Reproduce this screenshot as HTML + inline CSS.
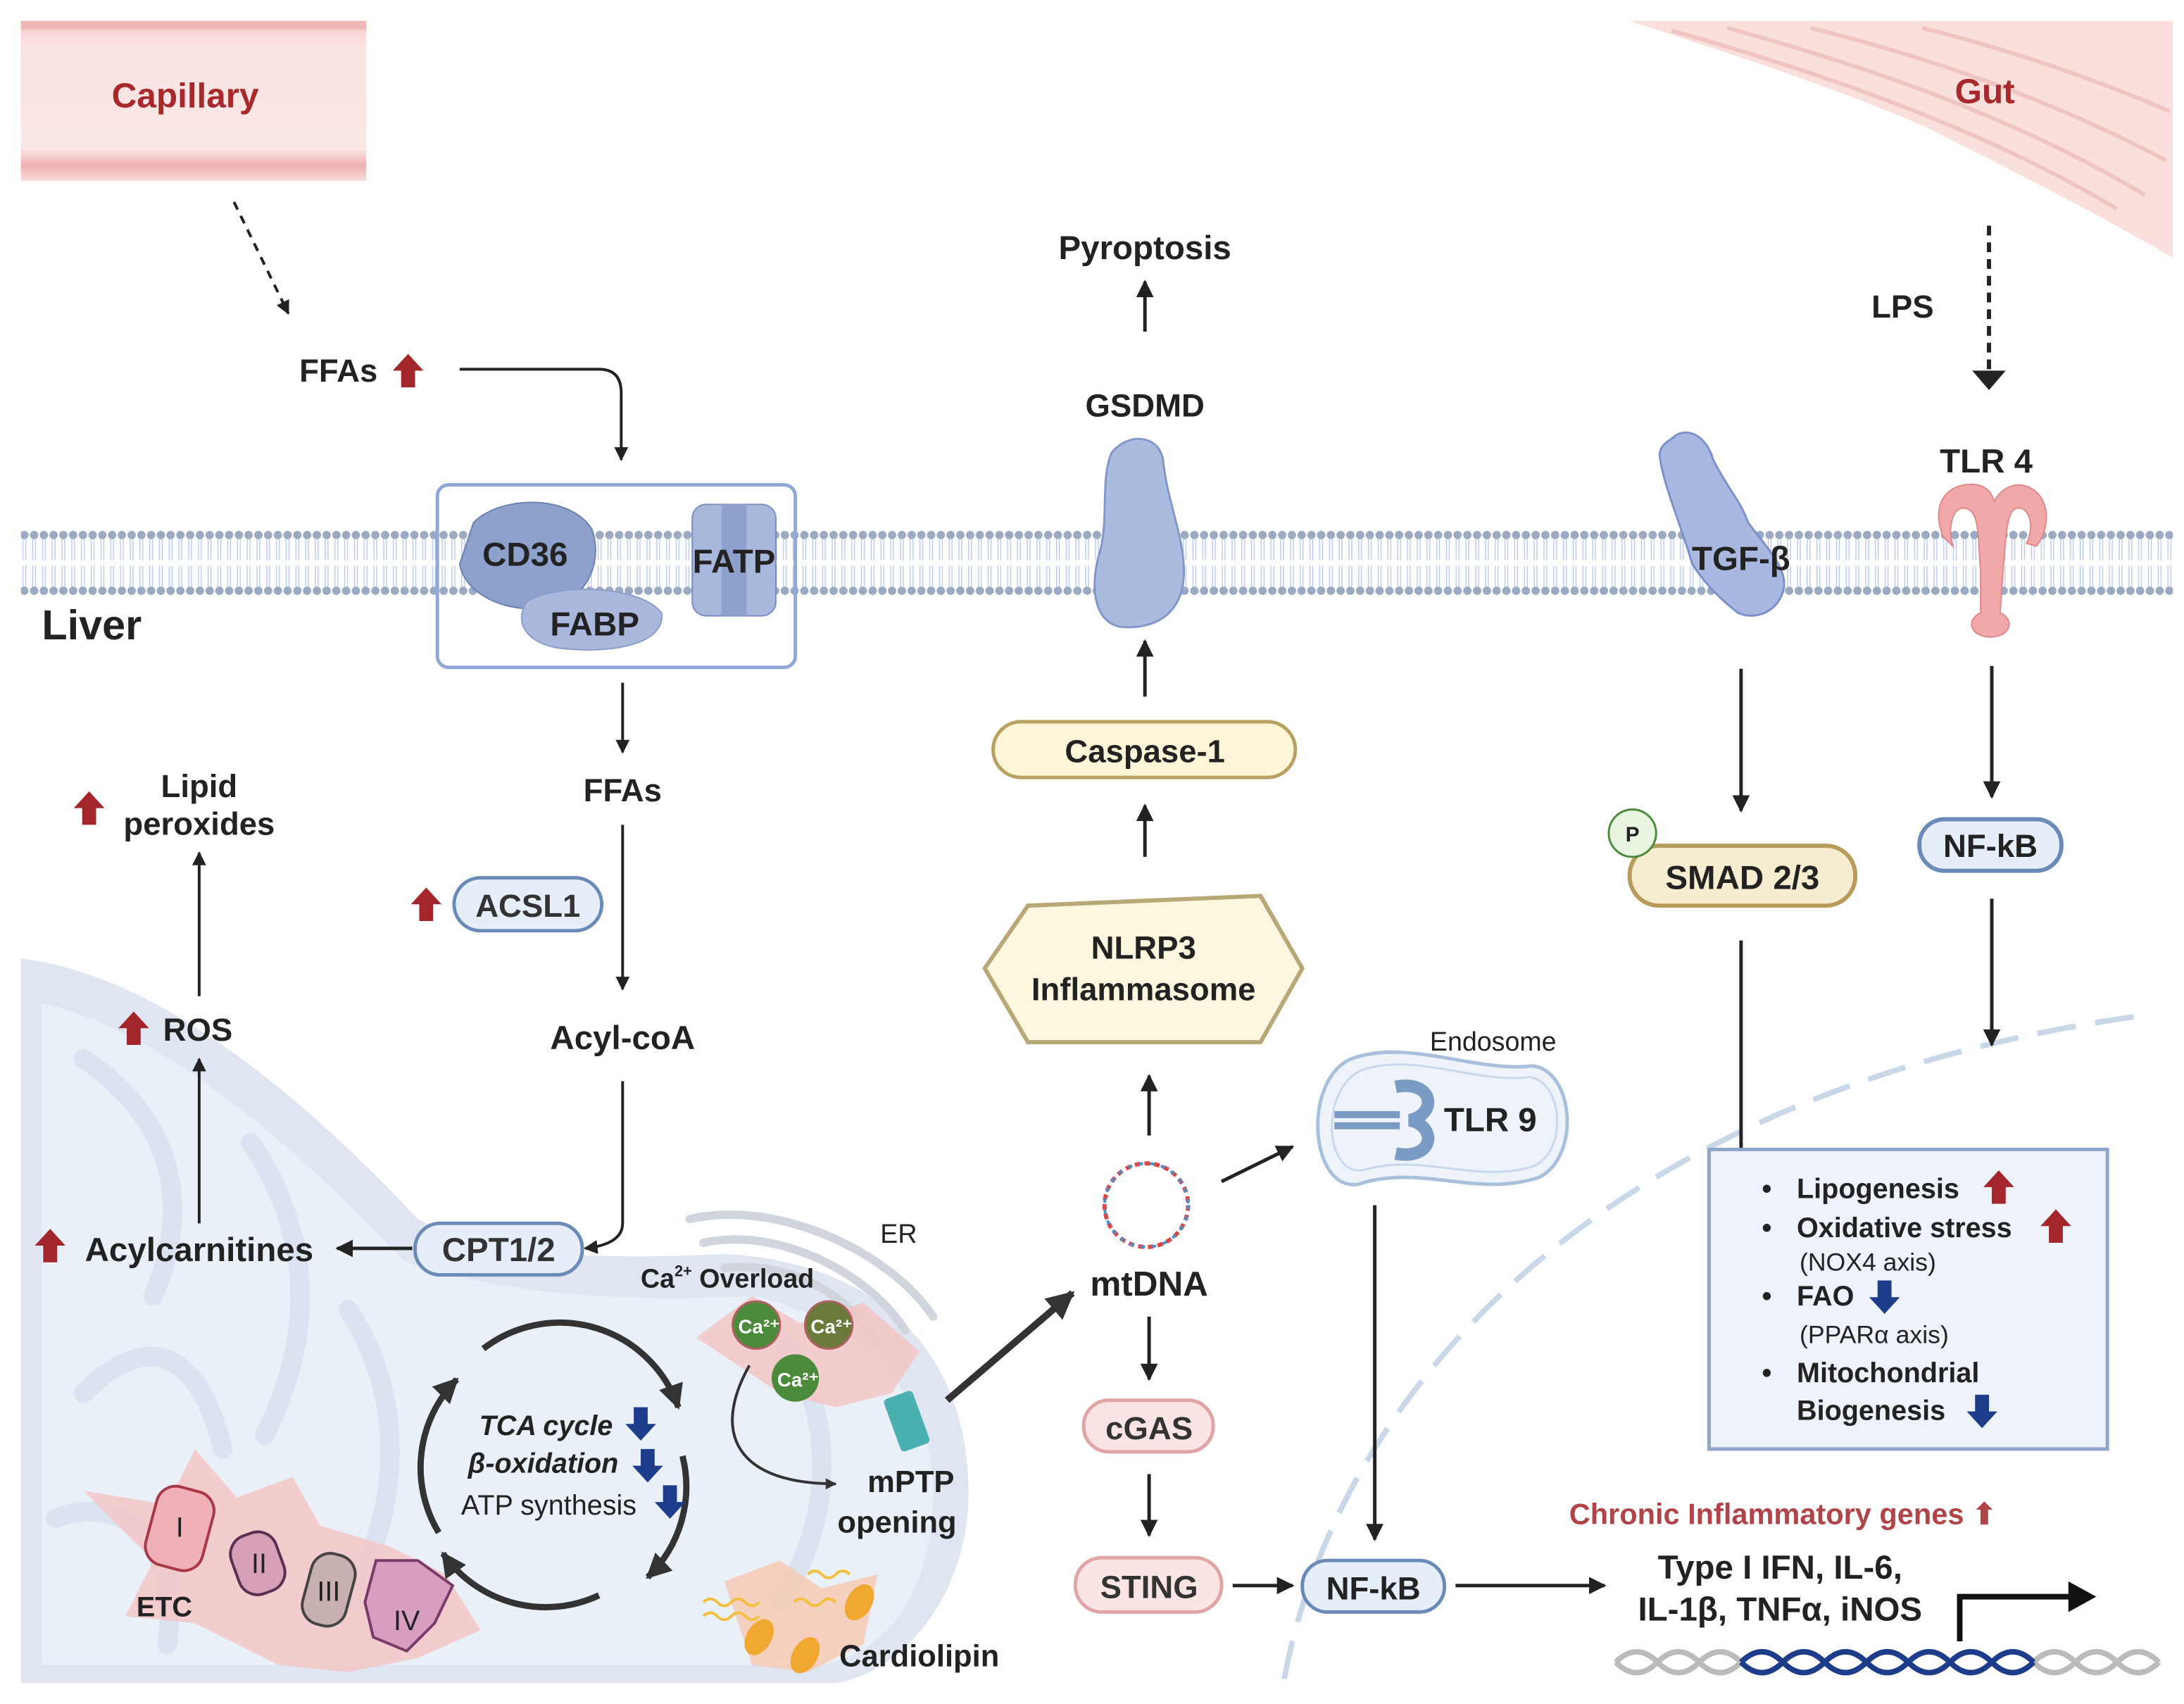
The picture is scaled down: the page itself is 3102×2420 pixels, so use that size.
<!DOCTYPE html>
<html><head><meta charset="utf-8"><style>
html,body{margin:0;padding:0;background:#fff;}
svg{display:block;}
text{font-family:"Liberation Sans",sans-serif;font-weight:bold;fill:#222;}
</style></head><body>
<svg width="3102" height="2420" viewBox="0 0 1568 1223" preserveAspectRatio="none" xmlns="http://www.w3.org/2000/svg">
<defs>
<marker id="ah" viewBox="0 0 10 10" refX="9" refY="5" markerWidth="5" markerHeight="5" orient="auto"><path d="M0,0L10,5L0,10z" fill="#222"/></marker>
<marker id="ahs" viewBox="0 0 10 10" refX="9" refY="5" markerWidth="4" markerHeight="4" orient="auto"><path d="M0,0L10,5L0,10z" fill="#333"/></marker>
<linearGradient id="cap" x1="0" y1="0" x2="0" y2="1"><stop offset="0" stop-color="#f4c7c7"/><stop offset="0.15" stop-color="#fbe3e3"/><stop offset="0.8" stop-color="#fbe6e6"/><stop offset="0.9" stop-color="#eeb0b0"/><stop offset="1" stop-color="#fadede"/></linearGradient>
<pattern id="mem" width="7" height="48" patternUnits="userSpaceOnUse" x="0" y="380">
<circle cx="3.5" cy="4" r="3" fill="#9aaac2"/><circle cx="3.5" cy="44" r="3" fill="#9aaac2"/>
<path d="M2.5,7V22M4.5,7V22M2.5,26V41M4.5,26V41" stroke="#b8c8e8" stroke-width="0.7"/>
</pattern>
<g id="up"><path d="M0,-12L11,0H5V12H-5V0H-11z" fill="#a3262b"/></g>
<g id="dn"><path d="M0,12L11,0H5V-12H-5V0H-11z" fill="#1d3d8a"/></g>
</defs>

<!-- Capillary -->
<rect x="15" y="15" width="248" height="115" fill="url(#cap)"/>
<rect x="15" y="15" width="248" height="6" fill="#f0b8b8"/>
<text x="133" y="77" font-size="25" text-anchor="middle" style="fill:#a8282c">Capillary</text>
<!-- Gut -->
<path d="M1170,15 H1560 V185 C1500,150 1440,120 1380,90 C1310,60 1240,38 1170,15z" fill="#f9e0dd"/>
<g stroke="#f0c4c0" stroke-width="3" fill="none">
<path d="M1200,22 C1300,50 1420,90 1520,150"/><path d="M1240,20 C1330,45 1440,80 1540,140"/><path d="M1300,20 C1380,40 1470,70 1555,115"/><path d="M1380,20 C1440,35 1500,55 1558,80"/>
</g>
<text x="1425" y="74" font-size="25" text-anchor="middle" style="fill:#a8282c">Gut</text>

<!-- Mitochondrion -->
<path d="M15,688 C120,700 230,800 300,875 C350,900 420,905 520,900 C620,905 690,960 695,1060 C700,1140 650,1200 600,1208 H15z" fill="#dfe5f1"/>
<path d="M30,720 C120,740 220,830 290,905 C360,930 460,935 540,930 C630,950 670,1010 670,1070 C670,1140 640,1185 590,1195 H30z" fill="#eaf0f8"/>
<g stroke="#dbe3f0" stroke-width="14" fill="none" stroke-linecap="round">
<path d="M60,760 C120,800 140,860 110,930"/><path d="M180,820 C220,880 230,950 190,1030"/><path d="M60,1000 C100,960 140,960 160,1040"/><path d="M250,940 C290,1000 290,1080 250,1150"/><path d="M560,960 C600,1010 600,1090 560,1150"/><path d="M40,1090 C90,1070 130,1110 120,1180"/>
</g>
<!-- ER -->
<g fill="none" stroke="#d0d4dc" stroke-width="6" stroke-linecap="round">
<path d="M495,875 C560,860 640,900 670,945"/><path d="M505,892 C560,880 625,915 650,955"/><path d="M520,910 C570,905 610,930 630,965"/>
</g>
<text x="632" y="892" font-size="19" font-weight="normal" style="font-weight:normal">ER</text>
<!-- ETC burst -->
<path d="M60,1070 L120,1080 140,1040 170,1075 210,1060 230,1095 280,1110 320,1130 345,1170 300,1190 250,1200 200,1195 140,1165 90,1160 110,1120z" fill="#f5c3c3" opacity="0.8"/>
<path d="M500,960 L540,930 575,950 620,935 660,970 640,1000 600,1010 560,1000z" fill="#f5c3c3" opacity="0.8"/>
<path d="M520,1135 L560,1120 590,1140 630,1130 620,1180 580,1200 540,1195z" fill="#f8c8b0" opacity="0.8"/>
<rect x="108" y="1068" width="42" height="58" rx="14" transform="rotate(15 129 1097)" fill="#f0b0b8" stroke="#a83848" stroke-width="2"/>
<rect x="168" y="1100" width="34" height="44" rx="14" transform="rotate(-20 185 1122)" fill="#d8a0b8" stroke="#5a3050" stroke-width="2"/>
<rect x="220" y="1115" width="32" height="52" rx="14" transform="rotate(15 236 1141)" fill="#c8b0b0" stroke="#444" stroke-width="2"/>
<path d="M270,1120 L300,1120 325,1138 312,1165 292,1185 268,1175 262,1150z" fill="#d89ec0" stroke="#7a3a6a" stroke-width="2"/>
<text x="129" y="1103" font-size="20" text-anchor="middle" style="font-weight:normal">I</text>
<text x="186" y="1129" font-size="20" text-anchor="middle" style="font-weight:normal">II</text>
<text x="236" y="1149" font-size="20" text-anchor="middle" style="font-weight:normal">III</text>
<text x="292" y="1170" font-size="20" text-anchor="middle" style="font-weight:normal">IV</text>
<text x="118" y="1160" font-size="20" text-anchor="middle">ETC</text>
<!-- TCA -->
<g fill="none" stroke="#333" stroke-width="4.5" marker-end="url(#ahs)">
<path d="M347,968 A90,90 0 0,1 487,1010"/><path d="M490,1045 A90,90 0 0,1 465,1132"/><path d="M430,1145 A90,90 0 0,1 318,1115"/><path d="M315,1100 A90,90 0 0,1 328,990"/>
</g>
<text x="392" y="1030" font-size="20" text-anchor="middle" font-style="italic">TCA cycle</text>
<text x="390" y="1057" font-size="20" text-anchor="middle" font-style="italic">β-oxidation</text>
<text x="394" y="1087" font-size="20" text-anchor="middle" style="font-weight:normal">ATP synthesis</text>
<use href="#dn" x="460" y="1022"/><use href="#dn" x="465" y="1052"/><use href="#dn" x="481" y="1078"/>
<!-- Ca -->
<text x="460" y="924" font-size="19">Ca<tspan font-size="11" dy="-8">2+</tspan><tspan dy="8"> Overload</tspan></text>
<circle cx="543" cy="951" r="17" fill="#4a8a3a" stroke="#b06060" stroke-width="1.5"/><circle cx="595" cy="951" r="17" fill="#6a7a3a" stroke="#b06060" stroke-width="1.5"/><circle cx="571" cy="989" r="17" fill="#4a8a3a"/>
<g font-size="14" style="fill:#fff"><text x="530" y="957" style="fill:#fff">Ca²⁺</text><text x="582" y="957" style="fill:#fff">Ca²⁺</text><text x="558" y="995" style="fill:#fff">Ca²⁺</text></g>
<path d="M538,980 C510,1030 530,1065 600,1065" fill="none" stroke="#333" stroke-width="2" marker-end="url(#ahs)"/>
<rect x="640" y="1000" width="22" height="40" rx="3" transform="rotate(-20 651 1020)" fill="#4ab0b0"/>
<text x="654" y="1071" font-size="22" text-anchor="middle">mPTP</text>
<text x="644" y="1100" font-size="22" text-anchor="middle">opening</text>
<g fill="none" stroke="#f2c040" stroke-width="2">
<path d="M505,1150 q5,-5 10,0 t10,0 t10,0 t10,0"/><path d="M505,1160 q5,-5 10,0 t10,0 t10,0 t10,0"/><path d="M570,1150 q5,-5 10,0 t10,0 t10,0"/><path d="M580,1130 q5,-5 10,0 t10,0 t10,0"/>
</g>
<g fill="#f0a830"><ellipse cx="545" cy="1175" rx="9" ry="14" transform="rotate(30 545 1175)"/><ellipse cx="578" cy="1188" rx="9" ry="14" transform="rotate(30 578 1188)"/><ellipse cx="617" cy="1150" rx="9" ry="14" transform="rotate(30 617 1150)"/></g>
<text x="660" y="1196" font-size="22" text-anchor="middle">Cardiolipin</text>
<line x1="680" y1="1005" x2="770" y2="928" stroke="#333" stroke-width="5" marker-end="url(#ahs)"/>

<!-- Membrane -->
<rect x="15" y="380" width="1545" height="48" fill="url(#mem)"/>
<text x="30" y="459" font-size="30">Liver</text>
<!-- transport box -->
<rect x="314" y="348" width="257" height="131" rx="8" fill="none" stroke="#8fa8d8" stroke-width="2.5"/>
<path d="M340,375 C360,355 410,355 425,380 C432,400 425,425 400,435 C370,442 335,430 330,405z" fill="#8ea0cc" stroke="#6a80b0"/>
<path d="M378,432 C400,418 460,420 475,440 C478,462 440,470 400,465 C375,460 370,445 378,432z" fill="#aab8dd" stroke="#8a9cc8"/>
<rect x="497" y="362" width="60" height="80" rx="10" fill="#a8b8dc" stroke="#7a8cc0"/>
<rect x="518" y="362" width="18" height="80" fill="#8ea0cc"/>
<text x="377" y="406" font-size="24" text-anchor="middle">CD36</text>
<text x="427" y="456" font-size="24" text-anchor="middle">FABP</text>
<text x="527" y="411" font-size="24" text-anchor="middle">FATP</text>
<!-- Left chain -->
<line x1="168" y1="145" x2="207" y2="225" stroke="#222" stroke-width="2" stroke-dasharray="6,5" marker-end="url(#ah)"/>
<text x="243" y="274" font-size="23" text-anchor="middle">FFAs</text><use href="#up" x="293" y="266"/>
<path d="M330,265 H430 Q446,265 446,282 V330" fill="none" stroke="#222" stroke-width="2" marker-end="url(#ah)"/>
<line x1="447" y1="490" x2="447" y2="540" stroke="#222" stroke-width="2" marker-end="url(#ah)"/>
<text x="447" y="575" font-size="23" text-anchor="middle">FFAs</text>
<line x1="447" y1="592" x2="447" y2="710" stroke="#222" stroke-width="2" marker-end="url(#ah)"/>
<rect x="326" y="630" width="106" height="38" rx="19" fill="#e6eef9" stroke="#6a8ab8" stroke-width="2.5"/>
<text x="379" y="658" font-size="23" text-anchor="middle" style="fill:#333">ACSL1</text><use href="#up" x="306" y="649"/>
<text x="447" y="753" font-size="24" text-anchor="middle">Acyl-coA</text>
<path d="M447,776 V878 Q447,893 420,896" fill="none" stroke="#222" stroke-width="2" marker-end="url(#ah)"/>
<rect x="298" y="878" width="120" height="37" rx="18" fill="#e6eef9" stroke="#6a8ab8" stroke-width="2.5"/>
<text x="358" y="905" font-size="24" text-anchor="middle" style="fill:#333">CPT1/2</text>
<line x1="296" y1="896" x2="242" y2="896" stroke="#222" stroke-width="2.5" marker-end="url(#ah)"/>
<text x="143" y="905" font-size="24" text-anchor="middle">Acylcarnitines</text><use href="#up" x="36" y="894"/>
<line x1="143" y1="878" x2="143" y2="760" stroke="#222" stroke-width="2" marker-end="url(#ah)"/>
<text x="142" y="747" font-size="23" text-anchor="middle">ROS</text><use href="#up" x="96" y="738"/>
<line x1="143" y1="715" x2="143" y2="612" stroke="#222" stroke-width="2" marker-end="url(#ah)"/>
<text x="143" y="572" font-size="23" text-anchor="middle">Lipid</text>
<text x="143" y="599" font-size="23" text-anchor="middle">peroxides</text><use href="#up" x="64" y="580"/>

<!-- Middle column -->
<text x="822" y="186" font-size="24" text-anchor="middle">Pyroptosis</text>
<line x1="822" y1="238" x2="822" y2="202" stroke="#222" stroke-width="2.5" marker-end="url(#ah)"/>
<text x="822" y="299" font-size="23" text-anchor="middle">GSDMD</text>
<path d="M798,325 C810,310 832,312 835,330 C838,360 850,385 850,410 C850,440 830,452 805,450 C785,447 782,420 790,395 C796,370 790,345 798,325z" fill="#aabbe0" stroke="#8296c8" stroke-width="1.5"/>
<line x1="822" y1="500" x2="822" y2="460" stroke="#222" stroke-width="2.5" marker-end="url(#ah)"/>
<rect x="713" y="518" width="217" height="40" rx="20" fill="#fcf5d8" stroke="#b8a060" stroke-width="2.5"/>
<text x="822" y="547" font-size="23" text-anchor="middle">Caspase-1</text>
<line x1="822" y1="615" x2="822" y2="578" stroke="#222" stroke-width="2.5" marker-end="url(#ah)"/>
<path d="M707,695 L738,650 L905,643 L935,695 L905,748 L738,748z" fill="#fcf7de" stroke="#b8a878" stroke-width="3"/>
<text x="821" y="688" font-size="23" text-anchor="middle">NLRP3</text>
<text x="821" y="718" font-size="23" text-anchor="middle">Inflammasome</text>
<line x1="825" y1="815" x2="825" y2="772" stroke="#222" stroke-width="2.5" marker-end="url(#ah)"/>
<circle cx="823" cy="865" r="30" fill="none" stroke="#d84848" stroke-width="3" stroke-dasharray="4,3"/>
<circle cx="823" cy="865" r="30" fill="none" stroke="#4a90c8" stroke-width="2" stroke-dasharray="3,5"/>
<text x="825" y="930" font-size="25" text-anchor="middle">mtDNA</text>
<line x1="877" y1="848" x2="928" y2="823" stroke="#222" stroke-width="2.5" marker-end="url(#ah)"/>
<line x1="825" y1="945" x2="825" y2="990" stroke="#222" stroke-width="2.5" marker-end="url(#ah)"/>
<rect x="778" y="1005" width="93" height="37" rx="18" fill="#fbe4e4" stroke="#e0a4a4" stroke-width="2.5"/>
<text x="825" y="1033" font-size="23" text-anchor="middle" style="fill:#333">cGAS</text>
<line x1="825" y1="1058" x2="825" y2="1102" stroke="#222" stroke-width="2.5" marker-end="url(#ah)"/>
<rect x="772" y="1118" width="105" height="39" rx="19" fill="#fbe4e4" stroke="#e0a4a4" stroke-width="2.5"/>
<text x="825" y="1147" font-size="23" text-anchor="middle" style="fill:#333">STING</text>
<line x1="885" y1="1138" x2="928" y2="1138" stroke="#222" stroke-width="2.5" marker-end="url(#ah)"/>

<!-- Nucleus dashed -->
<path d="M922,1205 C960,1000 1150,780 1545,728" fill="none" stroke="#c8d8e8" stroke-width="4" stroke-dasharray="28,14"/>

<rect x="935" y="1120" width="102" height="37" rx="18" fill="#e6eef9" stroke="#6a8ab8" stroke-width="2.5"/>
<text x="986" y="1148" font-size="23" text-anchor="middle">NF-kB</text>
<line x1="1045" y1="1138" x2="1152" y2="1138" stroke="#222" stroke-width="2.5" marker-end="url(#ah)"/>

<!-- Endosome -->
<path d="M970,760 C1010,745 1060,770 1100,765 C1130,768 1135,830 1105,845 C1060,860 1020,835 975,850 C940,855 935,775 970,760z" fill="#eef3fa" stroke="#a8c0dc" stroke-width="2.5"/>
<path d="M978,768 C1015,755 1060,778 1098,773 C1122,776 1126,826 1101,837 C1060,850 1020,827 978,840 C950,843 948,780 978,768z" fill="none" stroke="#c8d8ec" stroke-width="1.5"/>
<path d="M958,800 H1005 M958,808 H1005" stroke="#7a9cc4" stroke-width="5"/>
<path d="M1002,780 C1030,775 1032,800 1012,804 C1032,808 1030,833 1002,828" fill="none" stroke="#7a9cc4" stroke-width="9"/>
<text x="1072" y="754" font-size="19" text-anchor="middle" style="font-weight:normal">Endosome</text>
<text x="1070" y="812" font-size="24" text-anchor="middle">TLR 9</text>
<line x1="987" y1="865" x2="987" y2="1105" stroke="#222" stroke-width="2.5" marker-end="url(#ah)"/>

<!-- TGF-beta -->
<path d="M1200,315 C1210,305 1225,312 1230,330 C1240,350 1250,360 1255,375 C1270,395 1285,410 1280,425 C1275,440 1260,445 1248,440 C1235,430 1225,420 1215,405 C1208,380 1195,350 1192,330 C1190,322 1195,318 1200,315z" fill="#a8b8e0" stroke="#7a90c8" stroke-width="1.5"/>
<text x="1250" y="409" font-size="24" text-anchor="middle">TGF-β</text>
<line x1="1250" y1="480" x2="1250" y2="582" stroke="#222" stroke-width="2.5" marker-end="url(#ah)"/>
<rect x="1170" y="607" width="162" height="43" rx="21" fill="#f6ecd0" stroke="#b89a5a" stroke-width="3"/>
<text x="1251" y="638" font-size="24" text-anchor="middle">SMAD 2/3</text>
<circle cx="1172" cy="598" r="17" fill="#e8f5e0" stroke="#4a8a3a" stroke-width="1.5"/>
<text x="1172" y="604" font-size="15" text-anchor="middle">P</text>
<line x1="1250" y1="675" x2="1250" y2="840" stroke="#222" stroke-width="2.5" marker-end="url(#ah)"/>

<!-- TLR4 -->
<text x="1366" y="228" font-size="23" text-anchor="middle">LPS</text>
<line x1="1428" y1="162" x2="1428" y2="278" stroke="#222" stroke-width="3" stroke-dasharray="7,5"/>
<path d="M1416,266 L1440,266 L1428,280z" fill="#222"/>
<text x="1426" y="339" font-size="24" text-anchor="middle">TLR 4</text>
<path d="M1395,385 C1385,360 1400,345 1420,348 C1428,350 1430,355 1432,360 C1434,355 1440,348 1450,348 C1470,350 1475,375 1462,392 L1455,390 C1462,375 1455,362 1447,365 C1440,368 1440,390 1438,410 L1436,440 C1442,442 1446,450 1438,455 C1432,458 1425,458 1420,455 C1412,450 1416,442 1422,440 L1422,410 C1420,390 1422,368 1412,365 C1402,362 1398,378 1402,392z" fill="#f0a8a8" stroke="#e08888" stroke-width="1"/>
<line x1="1430" y1="478" x2="1430" y2="572" stroke="#222" stroke-width="2.5" marker-end="url(#ah)"/>
<rect x="1378" y="588" width="102" height="37" rx="18" fill="#e6eef9" stroke="#6a8ab8" stroke-width="3"/>
<text x="1429" y="615" font-size="23" text-anchor="middle">NF-kB</text>
<line x1="1430" y1="645" x2="1430" y2="750" stroke="#222" stroke-width="2.5" marker-end="url(#ah)"/>

<!-- Box -->
<rect x="1227" y="825" width="286" height="215" fill="#eef2fa" stroke="#8ea4cc" stroke-width="2.5"/>
<g font-size="20">
<text x="1265" y="860">•</text><text x="1290" y="860">Lipogenesis</text><use href="#up" x="1435" y="852"/>
<text x="1265" y="888">•</text><text x="1290" y="888">Oxidative stress</text><use href="#up" x="1476" y="880"/>
<text x="1292" y="912" font-size="18" style="font-weight:normal">(NOX4 axis)</text>
<text x="1265" y="937">•</text><text x="1290" y="937">FAO</text><use href="#dn" x="1353" y="931"/>
<text x="1292" y="964" font-size="18" style="font-weight:normal">(PPARα axis)</text>
<text x="1265" y="992">•</text><text x="1290" y="992">Mitochondrial</text>
<text x="1290" y="1019">Biogenesis</text><use href="#dn" x="1423" y="1013"/>
</g>

<!-- genes -->
<text x="1280" y="1094" font-size="21" text-anchor="middle" style="fill:#b04448">Chronic Inflammatory genes ⬆</text>
<text x="1278" y="1133" font-size="24" text-anchor="middle">Type I IFN, IL-6,</text>
<text x="1278" y="1163" font-size="24" text-anchor="middle">IL-1β, TNFα, iNOS</text>
<path d="M1407,1178 V1146 H1490" fill="none" stroke="#111" stroke-width="4"/>
<path d="M1485,1135 L1505,1146 L1485,1157z" fill="#111"/>
<g fill="none" stroke-width="4">
<path d="M1160,1193 Q1175,1178 1190,1193 T1220,1193 T1250,1193 T1280,1193 T1310,1193 T1340,1193 T1370,1193 T1400,1193 T1430,1193 T1460,1193 T1490,1193 T1520,1193 T1550,1193" stroke="#bbb"/>
<path d="M1160,1193 Q1175,1208 1190,1193 T1220,1193 T1250,1193" stroke="#bbb"/>
<path d="M1460,1193 Q1475,1208 1490,1193 T1520,1193 T1550,1193" stroke="#bbb"/>
<path d="M1250,1193 Q1265,1208 1280,1193 T1310,1193 T1340,1193 T1370,1193 T1400,1193 T1430,1193 T1460,1193" stroke="#1d3d8a"/>
<path d="M1250,1193 Q1265,1178 1280,1193 T1310,1193 T1340,1193 T1370,1193 T1400,1193 T1430,1193 T1460,1193" stroke="#1d3d8a"/>
</g>
</svg>
</body></html>
